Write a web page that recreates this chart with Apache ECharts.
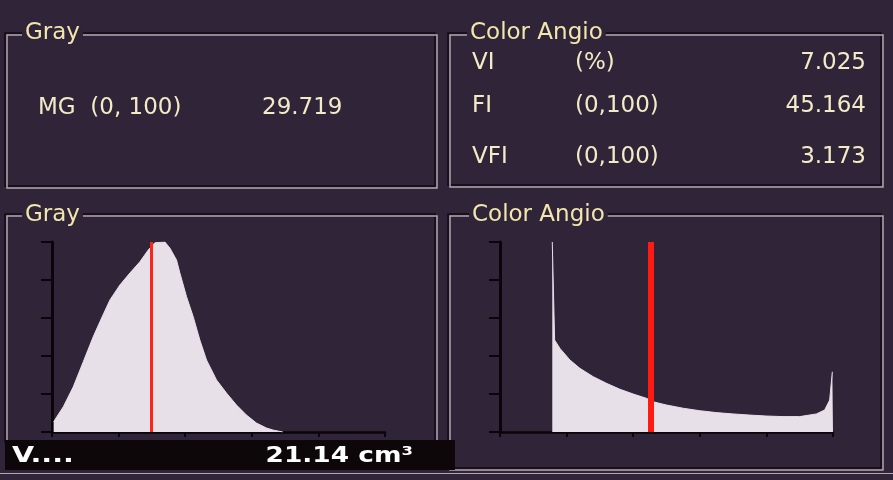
<!DOCTYPE html>
<html>
<head>
<meta charset="utf-8">
<script src="https://cdn.jsdelivr.net/npm/echarts@6/dist/echarts.min.js"></script>
<style>
  html, body { margin: 0; padding: 0; background: #302438; }
  #chart { width: 893px; height: 480px; }
</style>
</head>
<body>
<div id="chart"></div>
<script>
// gray histogram (x: 0-100 gray level, y: % of peak)
const grayX = [0.5, 3.4, 6.4, 9.4, 12.4, 14.9, 17.4, 20.4, 23.4, 26.4, 28.9, 30.9, 33.9, 35.4, 37.4, 38.4, 40.4, 42.4, 44.4, 46.4, 49.4, 52.4, 55.4, 58.4, 61.4, 64.4, 66.4, 69.3];
const grayY = [5.4, 13.3, 23.8, 37, 50.2, 60, 69.5, 77.4, 83.7, 89.6, 95.8, 99.6, 100, 96.8, 90.5, 83.7, 71.2, 60.7, 48.4, 37.9, 27.4, 20.5, 14.2, 8.9, 4.7, 2.1, 1, 0];

// color angio histogram
const colorX = [15.7, 16.3, 16.4, 18, 21, 24, 28, 32, 36, 40, 44, 46, 50, 55, 60, 65, 70, 75, 80, 85, 90, 95, 97.5, 99, 99.8, 100];
const colorY = [100, 100, 48.4, 44, 37.9, 33.5, 29.1, 25.6, 22.5, 20, 17.7, 15.9, 14.2, 12.5, 11.2, 10.2, 9.5, 8.9, 8.4, 8.1, 8.1, 9.5, 11.6, 16.8, 31.7, 31.7];

// indices
const MG = 29.719;
const VI = 7.025;
const FI = 45.164;
const VFI = 3.173;
const volume = "21.14 cm³";

const bg = "#302438";
const cream = "#f3ebc6";
const fill = "#e8e0e9";
const font = "DejaVu Sans";

const pairs = (xs, ys) => xs.map((x, i) => [x, ys[i]]);

const frame = (x, y, w, h) => [
  { type: "rect", shape: { x: x, y: y, width: w, height: h }, style: { fill: null, stroke: "#120a12", lineWidth: 1.5 } },
  { type: "rect", shape: { x: x + 2, y: y + 2, width: w, height: h }, style: { fill: null, stroke: "#b3a5b1", lineWidth: 1.5 } },
];

const text = (x, y, str, opts, extra) => Object.assign({
  type: "text",
  x: x,
  y: y,
  style: Object.assign({
    text: str,
    fill: cream,
    font: "23px '" + font + "'",
    align: "left",
    verticalAlign: "middle",
  }, opts || {}),
}, extra || {});

const title = (x, y, str) => text(x, y, str, {
  fill: "#f2e6ad",
  backgroundColor: bg,
  padding: [0, 3],
});

const xAxisBase = (grid) => ({
  type: "value",
  gridIndex: grid,
  min: 0,
  max: 100,
  interval: 20,
  axisLine: { lineStyle: { color: "#0a0508", width: 2.5 } },
  axisTick: { show: true, length: 5, lineStyle: { color: "#0a0508", width: 2 } },
  axisLabel: { show: false },
  splitLine: { show: false },
});

const yAxisBase = (grid) => ({
  type: "value",
  gridIndex: grid,
  min: 0,
  max: 100,
  interval: 20,
  axisLine: { show: true, lineStyle: { color: "#0a0508", width: 3 } },
  axisTick: { show: true, length: 11, lineStyle: { color: "#0a0508", width: 2 } },
  axisLabel: { show: false },
  splitLine: { show: false },
});

const option = {
  backgroundColor: bg,
  animation: false,
  grid: [
    { left: 52, top: 242, width: 333, height: 190 },
    { left: 500, top: 242, width: 333, height: 190 },
  ],
  xAxis: [xAxisBase(0), xAxisBase(1)],
  yAxis: [yAxisBase(0), yAxisBase(1)],
  series: [
    {
      name: "Gray",
      type: "line",
      xAxisIndex: 0,
      yAxisIndex: 0,
      data: pairs(grayX, grayY),
      showSymbol: false,
      lineStyle: { color: fill, width: 1 },
      areaStyle: { color: fill, opacity: 1 },
      markLine: {
        silent: true,
        symbol: "none",
        label: { show: false },
        lineStyle: { color: "#ff2418", width: 3, type: "solid" },
        data: [{ xAxis: MG }],
      },
    },
    {
      name: "Color Angio",
      type: "line",
      xAxisIndex: 1,
      yAxisIndex: 1,
      data: pairs(colorX, colorY),
      showSymbol: false,
      lineStyle: { color: fill, width: 1 },
      areaStyle: { color: fill, opacity: 1 },
      markLine: {
        silent: true,
        symbol: "none",
        label: { show: false },
        lineStyle: { color: "#ff1a14", width: 6, type: "solid" },
        data: [{ xAxis: FI }],
      },
    },
  ],
  graphic: [
    ...frame(5, 33, 430, 153),
    ...frame(448, 33, 433, 152),
    ...frame(5, 214, 430, 228),
    ...frame(448, 214, 433, 254),
    { type: "rect", shape: { x: 0, y: 473, width: 893, height: 1 }, style: { fill: "#b3a5b1" } },
    { type: "rect", shape: { x: 5, y: 440, width: 450, height: 30 }, style: { fill: "#0d0709" } },

    title(22, 33, "Gray"),
    title(467, 33, "Color Angio"),
    title(22, 215, "Gray"),
    title(469, 215, "Color Angio"),

    text(38, 108, "MG  (0, 100)"),
    text(262, 108, MG.toFixed(3)),

    text(472, 63, "VI"),
    text(575, 63, "(%)"),
    text(866, 63, VI.toFixed(3), { align: "right" }),
    text(472, 106, "FI"),
    text(575, 106, "(0,100)"),
    text(866, 106, FI.toFixed(3), { align: "right" }),
    text(472, 157, "VFI"),
    text(575, 157, "(0,100)"),
    text(866, 157, VFI.toFixed(3), { align: "right" }),

    text(12, 456, "V....", { fill: "#ffffff", font: "bold 22px '" + font + "'" }, { scaleX: 1.3 }),
    text(413, 456, volume, { fill: "#ffffff", font: "bold 22px '" + font + "'", align: "right" }, { scaleX: 1.2 }),
  ],
};

const myChart = echarts.init(document.getElementById("chart"));
myChart.setOption(option);
</script>
</body>
</html>
